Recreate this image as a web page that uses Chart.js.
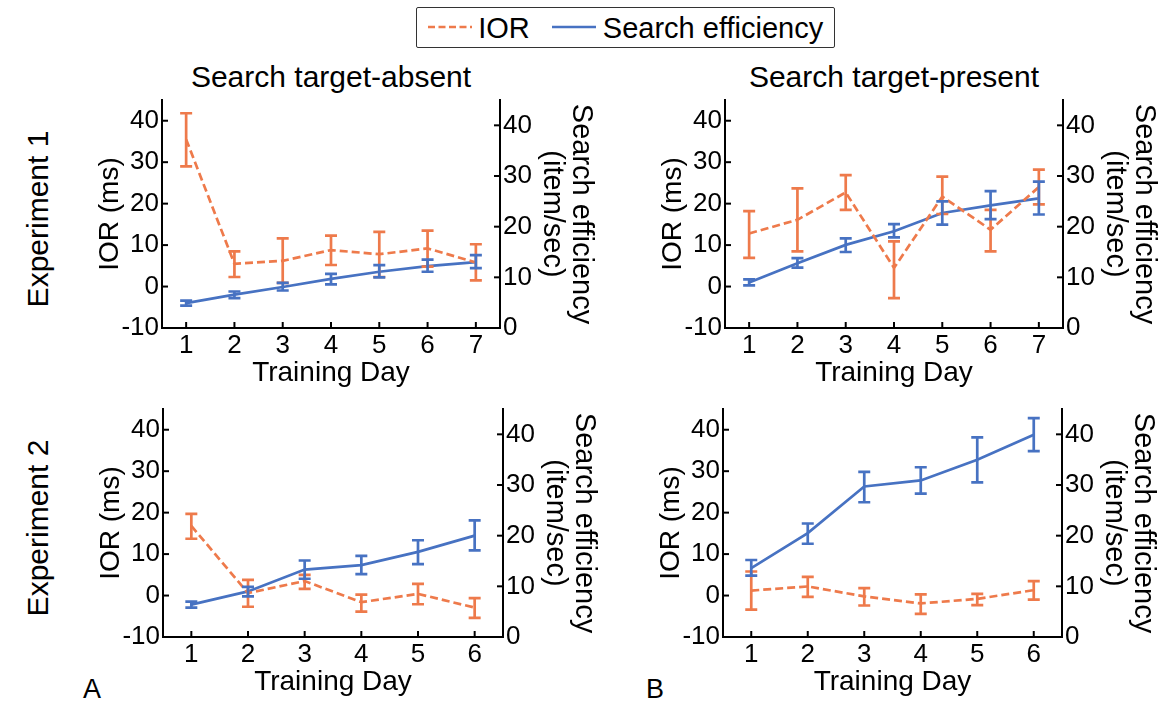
<!DOCTYPE html>
<html>
<head>
<meta charset="utf-8">
<script src="https://cdn.jsdelivr.net/npm/chart.js@4.4.1/dist/chart.umd.min.js"></script>
<style>
html,body{margin:0;padding:0;background:#fff;}
body{width:1161px;height:704px;position:relative;overflow:hidden;font-family:"Liberation Sans",Arial,sans-serif;color:#000;}
canvas{position:absolute;}
.t{position:absolute;white-space:nowrap;line-height:1;transform:translate(-50%,-50%);}
.rot{transform:translate(-50%,-50%) rotate(-90deg);}
#legend{position:absolute;left:416px;top:7px;width:417px;height:39px;border:1.5px solid #333;border-radius:2px;}
</style>
</head>
<body>
<div id="legend"></div>
<svg style="position:absolute;left:0;top:0" width="1161" height="60">
  <line x1="428" y1="27" x2="472" y2="27" stroke="#EE7A4B" stroke-width="2.7" stroke-dasharray="7,3.5"/>
  <line x1="552" y1="27" x2="596" y2="27" stroke="#4772C2" stroke-width="2.7"/>
</svg>
<div class="t" style="left:504px;top:28px;font-size:29px;">IOR</div>
<div class="t" style="left:713px;top:28px;font-size:29px;">Search efficiency</div>

<div class="t" style="left:331px;top:77px;font-size:30px;">Search target-absent</div>
<div class="t" style="left:894px;top:77px;font-size:30px;">Search target-present</div>
<div class="t rot" style="left:38px;top:219px;font-size:30px;">Experiment 1</div>
<div class="t rot" style="left:38px;top:528px;font-size:30px;">Experiment 2</div>
<div class="t" style="left:92px;top:689px;font-size:27px;">A</div>
<div class="t" style="left:655px;top:689px;font-size:27px;">B</div>

<script>
// ---- data ----
const days7 = ['1','2','3','4','5','6','7'];
const days6 = ['1','2','3','4','5','6'];

// Experiment 1, target-absent
const iorA1   = [35.5, 5.5, 6.2, 8.8, 7.8, 9.2, 5.8];
const iorA1Lo = [29.0, 2.3, 0.9, 5.2, 2.3, 4.8, 1.5];
const iorA1Hi = [41.8, 8.5, 11.6, 12.3, 13.2, 13.5, 10.2];
const effA1   = [4.9, 6.6, 8.1, 9.7, 11.1, 12.2, 13.0];
const effA1Lo = [4.4, 5.9, 7.4, 8.6, 10.0, 11.1, 11.8];
const effA1Hi = [5.4, 7.2, 8.9, 10.7, 12.4, 13.5, 14.4];

// Experiment 1, target-present
const iorB1   = [12.8, 16.1, 22.7, 4.5, 21.7, 13.7, 24.0];
const iorB1Lo = [6.9, 8.5, 18.5, -2.8, 17.5, 8.5, 19.8];
const iorB1Hi = [18.2, 23.7, 26.9, 10.9, 26.5, 18.5, 28.2];
const effB1   = [9.0, 12.8, 16.4, 19.1, 22.7, 24.2, 25.6];
const effB1Lo = [8.4, 11.9, 15.0, 17.9, 20.4, 21.5, 22.4];
const effB1Hi = [9.6, 13.8, 17.7, 20.5, 25.0, 27.0, 28.9];

// Experiment 2, target-absent
const iorA2   = [16.8, 0.6, 3.5, -1.6, 0.4, -2.9];
const iorA2Lo = [13.7, -2.7, 1.6, -3.9, -2.1, -5.4];
const iorA2Hi = [19.7, 3.8, 5.0, 0.2, 2.8, -0.6];
const effA2   = [6.4, 9.0, 13.3, 14.2, 16.8, 20.0];
const effA2Lo = [5.8, 8.0, 11.5, 12.4, 14.4, 17.1];
const effA2Hi = [7.0, 9.9, 15.1, 16.0, 19.1, 23.0];

// Experiment 2, target-present
const iorB2   = [1.2, 2.2, -0.2, -1.9, -0.8, 1.3];
const iorB2Lo = [-3.4, -0.3, -2.4, -4.4, -2.3, -1.0];
const iorB2Hi = [5.8, 4.5, 1.8, 0.3, 0.4, 3.5];
const effB2   = [13.6, 20.5, 29.7, 30.9, 35.0, 39.9];
const effB2Lo = [12.1, 18.4, 26.6, 28.3, 30.5, 36.7];
const effB2Hi = [15.2, 22.4, 32.6, 33.5, 39.4, 43.2];

const iorRange = [-10, 45];
const effRange = [0, 45];
const tickStep = 10;

// ---- styles ----
const ORANGE = '#EE7A4B';
const BLUE = '#4772C2';
Chart.defaults.font.family = "'Liberation Sans', Arial, sans-serif";
Chart.defaults.color = '#000';

const WL = 77, WR = 100, HX = 62, PT = 24;
const LW = 2.7, CAP = 6;

const errorBars = {
  id: 'errorBars',
  afterDatasetsDraw(chart) {
    const ctx = chart.ctx;
    chart.data.datasets.forEach((ds, i) => {
      const meta = chart.getDatasetMeta(i);
      const ys = chart.scales[ds.yAxisID];
      ctx.save();
      ctx.strokeStyle = ds.borderColor;
      ctx.lineWidth = LW;
      ctx.setLineDash([]);
      ctx.lineCap = 'butt';
      meta.data.forEach((pt, j) => {
        const x = pt.x;
        const y1 = ys.getPixelForValue(ds.errLo[j]);
        const y2 = ys.getPixelForValue(ds.errHi[j]);
        ctx.beginPath();
        ctx.moveTo(x, y1); ctx.lineTo(x, y2);
        ctx.moveTo(x - CAP, y1); ctx.lineTo(x + CAP, y1);
        ctx.moveTo(x - CAP, y2); ctx.lineTo(x + CAP, y2);
        ctx.stroke();
      });
      ctx.restore();
    });
  }
};

const inwardTicks = {
  id: 'inwardTicks',
  afterDraw(chart) {
    const ctx = chart.ctx, a = chart.chartArea, L = 6;
    ctx.save();
    ctx.strokeStyle = '#000';
    ctx.lineWidth = 2;
    const seg = (x1, y1, x2, y2) => { ctx.beginPath(); ctx.moveTo(x1, y1); ctx.lineTo(x2, y2); ctx.stroke(); };
    const sx = chart.scales.x;
    sx.ticks.forEach((t, i) => { const p = sx.getPixelForTick(i); seg(p, a.bottom, p, a.bottom - L); });
    const yl = chart.scales.yL;
    yl.ticks.forEach((t, i) => { const p = yl.getPixelForTick(i); seg(a.left, p, a.left + L, p); });
    const yr = chart.scales.yR;
    yr.ticks.forEach((t, i) => { const p = yr.getPixelForTick(i); seg(a.right, p, a.right - L, p); });
    ctx.restore();
  }
};

function makePanel(plotL, plotR, plotT, plotB, labels, ior, iorLo, iorHi, eff, effLo, effHi) {
  const cv = document.createElement('canvas');
  const w = WL + (plotR - plotL) + WR;
  const h = PT + (plotB - plotT) + HX;
  cv.width = w; cv.height = h;
  cv.style.left = (plotL - WL) + 'px';
  cv.style.top = (plotT - PT) + 'px';
  cv.style.width = w + 'px'; cv.style.height = h + 'px';
  document.body.appendChild(cv);
  new Chart(cv, {
    type: 'line',
    data: {
      labels: labels,
      datasets: [
        {label: 'IOR', data: ior, errLo: iorLo, errHi: iorHi, yAxisID: 'yL',
         borderColor: ORANGE, borderWidth: LW, borderDash: [8, 4], pointRadius: 0, fill: false, tension: 0},
        {label: 'Search efficiency', data: eff, errLo: effLo, errHi: effHi, yAxisID: 'yR',
         borderColor: BLUE, borderWidth: LW, pointRadius: 0, fill: false, tension: 0}
      ]
    },
    options: {
      responsive: false, animation: false, events: [],
      layout: {padding: {top: PT, left: 0, right: 0, bottom: 0}},
      plugins: {legend: {display: false}, tooltip: {enabled: false}, title: {display: false}},
      scales: {
        x: {
          type: 'category', offset: true,
          grid: {display: false, drawTicks: false},
          border: {display: true, color: '#000', width: 2},
          ticks: {font: {size: 26}, color: '#000', padding: 2, maxRotation: 0, autoSkip: false},
          title: {display: true, text: 'Training Day', color: '#000', font: {size: 28}, padding: {top: 0, bottom: 0}},
          afterFit(s) { s.height = HX; }
        },
        yL: {
          type: 'linear', position: 'left', min: iorRange[0], max: iorRange[1],
          grid: {display: false, drawTicks: false},
          border: {display: true, color: '#000', width: 2},
          ticks: {stepSize: tickStep, includeBounds: false, font: {size: 26}, color: '#000', padding: 3},
          title: {display: true, text: 'IOR (ms)', color: '#000', font: {size: 28, lineHeight: 1}, padding: {top: 11, bottom: 0}},
          afterFit(s) { s.width = WL; }
        },
        yR: {
          type: 'linear', position: 'right', min: effRange[0], max: effRange[1],
          grid: {display: false, drawTicks: false},
          border: {display: true, color: '#000', width: 2},
          ticks: {stepSize: tickStep, includeBounds: false, font: {size: 26}, color: '#000', padding: 3},
          title: {display: true, text: ['Search efficiency', '(item/sec)'], color: '#000', font: {size: 29, lineHeight: 1.0}, padding: {top: 5, bottom: 0}},
          afterFit(s) { s.width = WR; }
        }
      }
    },
    plugins: [errorBars, inwardTicks]
  });
}

makePanel(162, 500, 100, 328, days7, iorA1, iorA1Lo, iorA1Hi, effA1, effA1Lo, effA1Hi);
makePanel(725, 1063, 100, 328, days7, iorB1, iorB1Lo, iorB1Hi, effB1, effB1Lo, effB1Hi);
makePanel(163, 503, 409, 637, days6, iorA2, iorA2Lo, iorA2Hi, effA2, effA2Lo, effA2Hi);
makePanel(723, 1062, 409, 637, days6, iorB2, iorB2Lo, iorB2Hi, effB2, effB2Lo, effB2Hi);
</script>
</body>
</html>
